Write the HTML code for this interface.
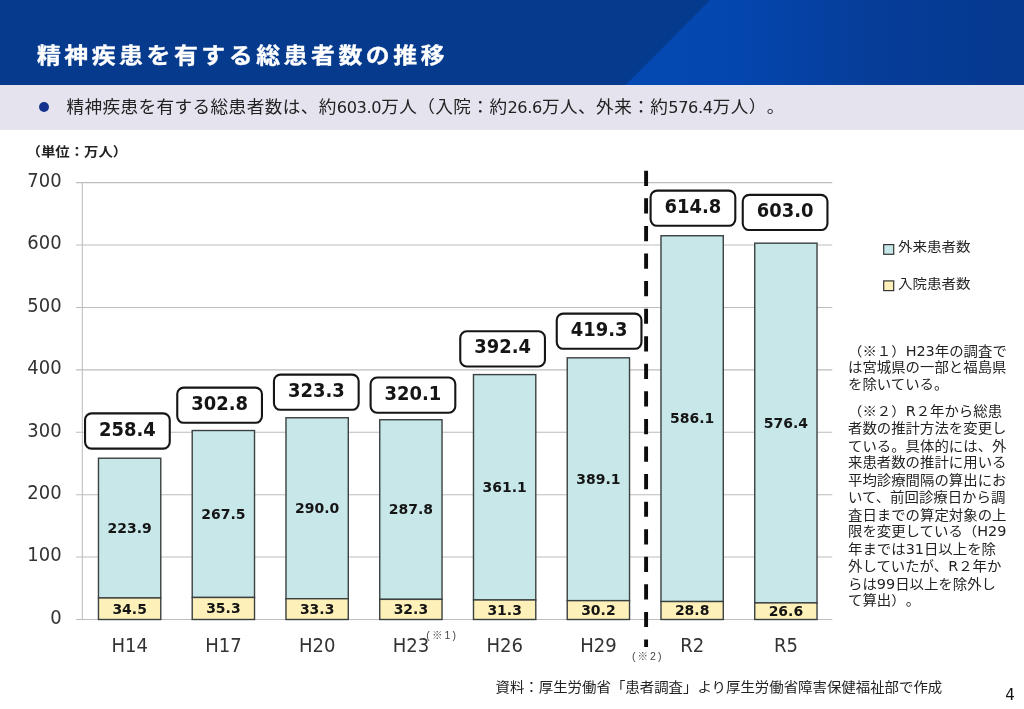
<!DOCTYPE html>
<html lang="ja"><head><meta charset="utf-8"><title>精神疾患を有する総患者数の推移</title>
<style>
html,body{margin:0;padding:0;background:#fff;}
body{width:1024px;height:709px;position:relative;overflow:hidden;font-family:"Liberation Sans","Noto Sans CJK JP",sans-serif;color:#222;text-spacing-trim:space-all;}
.hdr{position:absolute;left:0;top:0;width:1024px;height:85px;background:#053a8d;overflow:hidden;}
.hdr svg{position:absolute;left:0;top:0;}
.t{position:absolute;white-space:nowrap;transform-origin:0 0;}
.title{left:36.9px;top:40.9px;font-weight:700;font-size:23.9px;letter-spacing:3.52px;color:#fff;line-height:34px;transform:scaleY(0.885);-webkit-text-stroke:0.35px #fff;}
.sub{position:absolute;left:0;top:85px;width:1024px;height:45px;background:#e4e3ee;}
.bul{position:absolute;left:38.5px;top:102px;width:10px;height:10px;border-radius:50%;background:#15338e;}
.subt{left:66.5px;top:94.0px;font-size:17.6px;letter-spacing:0.42px;line-height:28px;transform:scaleY(0.95);}
.subt .n{font-size:0.92em;letter-spacing:-0.35px;}
.n{font-family:"DejaVu Sans","Liberation Sans",sans-serif;}
.ib{display:inline-block;}
.unit{left:26.5px;top:141.7px;font-weight:700;font-size:14.4px;line-height:20px;transform:scaleY(0.9);}
.ax{font-family:"DejaVu Sans","Liberation Sans",sans-serif;font-size:18.7px;fill:#333;}
.dl{font-family:"DejaVu Sans","Liberation Sans",sans-serif;font-size:14.8px;font-weight:700;fill:#151515;}
.tl{font-family:"DejaVu Sans","Liberation Sans",sans-serif;font-size:18.8px;font-weight:700;fill:#151515;}
.sm{font-family:"Liberation Sans","Noto Sans CJK JP",sans-serif;font-size:10.5px;fill:#444;letter-spacing:2.1px;}
.lg{left:898px;font-size:14.5px;line-height:20px;transform:scaleY(0.9);}
.note{left:848px;font-size:14.42px;line-height:18.5px;transform:scaleY(0.92);}
.foot{left:495.5px;top:677.7px;font-size:14.43px;line-height:20px;transform:scaleY(0.92);}
.pgn{font-family:"DejaVu Sans","Liberation Sans",sans-serif;font-size:16.3px;fill:#151515;}
</style></head><body>
<div class="hdr"><svg width="1024" height="85" viewBox="0 0 1024 85"><defs><linearGradient id="g" x1="0" y1="0" x2="1" y2="0"><stop offset="0" stop-color="#0449b3"/><stop offset="0.3" stop-color="#0446ad"/><stop offset="0.62" stop-color="#063d99"/><stop offset="1" stop-color="#06398f"/></linearGradient></defs><polygon points="710,0 1024,0 1024,85 625.5,85" fill="url(#g)"/></svg>
<div class="t title">精神疾患を有する総患者数の推移</div></div>
<div class="sub"></div><div class="bul"></div>
<div class="t subt">精神疾患を有する総患者数は、約<span class="n">603.0</span>万人（入院：約<span class="n">26.6</span>万人、外来：約<span class="n">576.4</span>万人）<span class="ib">。</span></div>
<div class="t unit">（単位：万人）</div>
<svg width="1024" height="709" viewBox="0 0 1024 709" style="position:absolute;left:0;top:0">
<line x1="76" y1="619.50" x2="832.3" y2="619.50" stroke="#bdbdbd" stroke-width="1.05"/>
<line x1="76" y1="557.09" x2="832.3" y2="557.09" stroke="#bdbdbd" stroke-width="1.05"/>
<line x1="76" y1="494.68" x2="832.3" y2="494.68" stroke="#bdbdbd" stroke-width="1.05"/>
<line x1="76" y1="432.27" x2="832.3" y2="432.27" stroke="#bdbdbd" stroke-width="1.05"/>
<line x1="76" y1="369.86" x2="832.3" y2="369.86" stroke="#bdbdbd" stroke-width="1.05"/>
<line x1="76" y1="307.45" x2="832.3" y2="307.45" stroke="#bdbdbd" stroke-width="1.05"/>
<line x1="76" y1="245.04" x2="832.3" y2="245.04" stroke="#bdbdbd" stroke-width="1.05"/>
<line x1="76" y1="182.63" x2="832.3" y2="182.63" stroke="#bdbdbd" stroke-width="1.05"/>
<line x1="82.3" y1="182" x2="82.3" y2="619.5" stroke="#bdbdbd" stroke-width="1.05"/>
<text transform="translate(61.60,623.80) scale(0.96,1)" text-anchor="end" class="ax">0</text>
<text transform="translate(61.60,561.39) scale(0.96,1)" text-anchor="end" class="ax">100</text>
<text transform="translate(61.60,498.98) scale(0.96,1)" text-anchor="end" class="ax">200</text>
<text transform="translate(61.60,436.57) scale(0.96,1)" text-anchor="end" class="ax">300</text>
<text transform="translate(61.60,374.16) scale(0.96,1)" text-anchor="end" class="ax">400</text>
<text transform="translate(61.60,311.75) scale(0.96,1)" text-anchor="end" class="ax">500</text>
<text transform="translate(61.60,249.34) scale(0.96,1)" text-anchor="end" class="ax">600</text>
<text transform="translate(61.60,186.93) scale(0.96,1)" text-anchor="end" class="ax">700</text>
<rect x="98.47" y="458.23" width="62.3" height="139.74" fill="#c7e7e8" stroke="#3b4040" stroke-width="1.4"/>
<rect x="98.47" y="597.97" width="62.3" height="21.53" fill="#fdf0b9" stroke="#3b4040" stroke-width="1.4"/>
<text transform="translate(129.62,613.53) scale(0.945,1)" text-anchor="middle" class="dl">34.5</text>
<text transform="translate(129.62,532.90) scale(0.945,1)" text-anchor="middle" class="dl">223.9</text>
<text transform="translate(129.78,652.30) scale(0.965,1)" text-anchor="middle" class="ax">H14</text>
<rect x="192.22" y="430.52" width="62.3" height="166.95" fill="#c7e7e8" stroke="#3b4040" stroke-width="1.4"/>
<rect x="192.22" y="597.47" width="62.3" height="22.03" fill="#fdf0b9" stroke="#3b4040" stroke-width="1.4"/>
<text transform="translate(223.38,613.28) scale(0.945,1)" text-anchor="middle" class="dl">35.3</text>
<text transform="translate(223.38,518.80) scale(0.945,1)" text-anchor="middle" class="dl">267.5</text>
<text transform="translate(223.53,652.30) scale(0.965,1)" text-anchor="middle" class="ax">H17</text>
<rect x="285.98" y="417.73" width="62.3" height="180.99" fill="#c7e7e8" stroke="#3b4040" stroke-width="1.4"/>
<rect x="285.98" y="598.72" width="62.3" height="20.78" fill="#fdf0b9" stroke="#3b4040" stroke-width="1.4"/>
<text transform="translate(317.12,613.91) scale(0.945,1)" text-anchor="middle" class="dl">33.3</text>
<text transform="translate(317.12,513.02) scale(0.945,1)" text-anchor="middle" class="dl">290.0</text>
<text transform="translate(317.27,652.30) scale(0.965,1)" text-anchor="middle" class="ax">H20</text>
<rect x="379.73" y="419.73" width="62.3" height="179.62" fill="#c7e7e8" stroke="#3b4040" stroke-width="1.4"/>
<rect x="379.73" y="599.34" width="62.3" height="20.16" fill="#fdf0b9" stroke="#3b4040" stroke-width="1.4"/>
<text transform="translate(410.88,614.22) scale(0.945,1)" text-anchor="middle" class="dl">32.3</text>
<text transform="translate(410.88,514.33) scale(0.945,1)" text-anchor="middle" class="dl">287.8</text>
<text transform="translate(411.02,652.30) scale(0.965,1)" text-anchor="middle" class="ax">H23</text>
<rect x="473.48" y="374.60" width="62.3" height="225.36" fill="#c7e7e8" stroke="#3b4040" stroke-width="1.4"/>
<rect x="473.48" y="599.97" width="62.3" height="19.53" fill="#fdf0b9" stroke="#3b4040" stroke-width="1.4"/>
<text transform="translate(504.62,614.53) scale(0.945,1)" text-anchor="middle" class="dl">31.3</text>
<text transform="translate(504.62,492.08) scale(0.945,1)" text-anchor="middle" class="dl">361.1</text>
<text transform="translate(504.77,652.30) scale(0.965,1)" text-anchor="middle" class="ax">H26</text>
<rect x="567.23" y="357.81" width="62.3" height="242.84" fill="#c7e7e8" stroke="#3b4040" stroke-width="1.4"/>
<rect x="567.23" y="600.65" width="62.3" height="18.85" fill="#fdf0b9" stroke="#3b4040" stroke-width="1.4"/>
<text transform="translate(598.38,614.88) scale(0.945,1)" text-anchor="middle" class="dl">30.2</text>
<text transform="translate(598.38,484.03) scale(0.945,1)" text-anchor="middle" class="dl">389.1</text>
<text transform="translate(598.52,652.30) scale(0.965,1)" text-anchor="middle" class="ax">H29</text>
<rect x="660.98" y="235.74" width="62.3" height="365.79" fill="#c7e7e8" stroke="#3b4040" stroke-width="1.4"/>
<rect x="660.98" y="601.53" width="62.3" height="17.97" fill="#fdf0b9" stroke="#3b4040" stroke-width="1.4"/>
<text transform="translate(692.12,615.31) scale(0.945,1)" text-anchor="middle" class="dl">28.8</text>
<text transform="translate(692.12,423.43) scale(0.945,1)" text-anchor="middle" class="dl">586.1</text>
<text transform="translate(692.27,652.30) scale(0.965,1)" text-anchor="middle" class="ax">R2</text>
<rect x="754.73" y="243.17" width="62.3" height="359.73" fill="#c7e7e8" stroke="#3b4040" stroke-width="1.4"/>
<rect x="754.73" y="602.90" width="62.3" height="16.60" fill="#fdf0b9" stroke="#3b4040" stroke-width="1.4"/>
<text transform="translate(785.88,616.00) scale(0.945,1)" text-anchor="middle" class="dl">26.6</text>
<text transform="translate(785.88,427.83) scale(0.945,1)" text-anchor="middle" class="dl">576.4</text>
<text transform="translate(786.02,652.30) scale(0.965,1)" text-anchor="middle" class="ax">R5</text>
<line x1="646.1" y1="170.8" x2="646.1" y2="646.9" stroke="#0c0c0c" stroke-width="3.9" stroke-dasharray="15.2 12.37"/>
<rect x="85.05" y="413.40" width="84.70" height="35.20" rx="6.5" ry="6.5" fill="#fff" stroke="#151515" stroke-width="2.1"/>
<text transform="translate(127.40,435.50) scale(0.955,1)" text-anchor="middle" class="tl">258.4</text>
<rect x="177.25" y="387.60" width="84.70" height="35.20" rx="6.5" ry="6.5" fill="#fff" stroke="#151515" stroke-width="2.1"/>
<text transform="translate(219.60,409.70) scale(0.955,1)" text-anchor="middle" class="tl">302.8</text>
<rect x="273.95" y="374.60" width="84.70" height="35.20" rx="6.5" ry="6.5" fill="#fff" stroke="#151515" stroke-width="2.1"/>
<text transform="translate(316.30,396.70) scale(0.955,1)" text-anchor="middle" class="tl">323.3</text>
<rect x="370.60" y="377.50" width="84.70" height="35.20" rx="6.5" ry="6.5" fill="#fff" stroke="#151515" stroke-width="2.1"/>
<text transform="translate(412.95,399.60) scale(0.955,1)" text-anchor="middle" class="tl">320.1</text>
<rect x="460.25" y="331.30" width="84.70" height="35.20" rx="6.5" ry="6.5" fill="#fff" stroke="#151515" stroke-width="2.1"/>
<text transform="translate(502.60,353.40) scale(0.955,1)" text-anchor="middle" class="tl">392.4</text>
<rect x="556.75" y="313.60" width="84.70" height="35.20" rx="6.5" ry="6.5" fill="#fff" stroke="#151515" stroke-width="2.1"/>
<text transform="translate(599.10,335.70) scale(0.955,1)" text-anchor="middle" class="tl">419.3</text>
<rect x="650.60" y="190.60" width="84.70" height="35.20" rx="6.5" ry="6.5" fill="#fff" stroke="#151515" stroke-width="2.1"/>
<text transform="translate(692.95,212.70) scale(0.955,1)" text-anchor="middle" class="tl">614.8</text>
<rect x="742.75" y="194.85" width="84.70" height="35.20" rx="6.5" ry="6.5" fill="#fff" stroke="#151515" stroke-width="2.1"/>
<text transform="translate(785.10,216.95) scale(0.955,1)" text-anchor="middle" class="tl">603.0</text>
<text x="442.2" y="638.8" text-anchor="middle" class="sm">(※1)</text>
<text x="647.8" y="659.6" text-anchor="middle" class="sm">(※2)</text>
<rect x="883.7" y="244.6" width="10" height="9.7" fill="#c7e7e8" stroke="#333" stroke-width="1.2"/>
<rect x="883.7" y="280.9" width="10" height="9.7" fill="#fdf0b9" stroke="#333" stroke-width="1.2"/>
<text transform="translate(1010.00,699.50) scale(0.92,1)" text-anchor="middle" class="pgn">4</text>
</svg>
<div class="t lg" style="top:236.5px">外来患者数</div>
<div class="t lg" style="top:273.5px">入院患者数</div>
<div class="t note" style="top:342.5px;line-height:18.2px">（※１）<span class="n">H23</span>年の調査で<br>は宮城県の一部と福島県<br>を除いている。</div>
<div class="t note" style="top:403.3px;line-height:18.77px">（※２）<span class="n">R</span>２年から総患<br>者数の推計方法を変更し<br>ている。具体的には、外<br>来患者数の推計に用いる<br>平均診療間隔の算出にお<br>いて、前回診療日から調<br>査日までの算定対象の上<br>限を変更している（<span class="n">H29</span><br>年までは<span class="n">31</span>日以上を除<br>外していたが、<span class="n">R</span>２年か<br>らは<span class="n">99</span>日以上を除外し<br>て算出）<span class="ib">。</span></div>
<div class="t foot">資料：厚生労働省「患者調査」より厚生労働省障害保健福祉部で作成</div>
</body></html>
